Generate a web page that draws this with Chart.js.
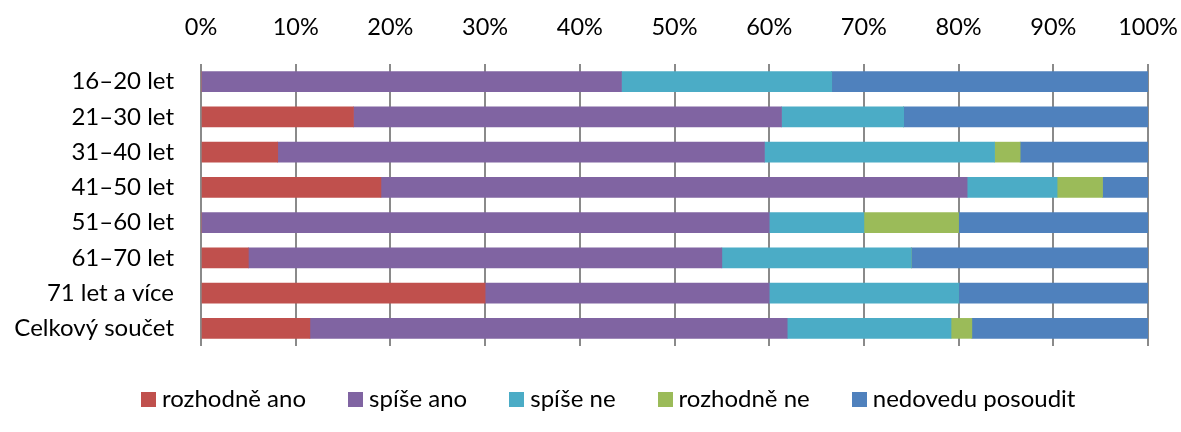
<!DOCTYPE html>
<html>
<head>
<meta charset="utf-8">
<script src="https://cdn.jsdelivr.net/npm/chart.js@4/dist/chart.umd.min.js"></script>
<style>
  html, body { margin: 0; padding: 0; background: #fff; }
  #wrap { position: relative; width: 1181px; height: 432px; }
  #legend {
    position: absolute; left: 141px; top: 384px; white-space: nowrap;
    font-family: Lato, sans-serif; font-size: 24px; color: #000; line-height: 28px;
  }
  #legend span.item { display: inline-block; margin-right: 42px; }
  #legend span.box { display: inline-block; width: 15px; height: 15px; margin-right: 6px; }
</style>
</head>
<body>
<div id="wrap">
  <canvas id="myChart" width="1181" height="432"></canvas>
  <div id="legend"></div>
</div>
<script>
const categories = ['16–20 let', '21–30 let', '31–40 let', '41–50 let', '51–60 let', '61–70 let', '71 let a více', 'Celkový součet'];
const rozhodneAno = [0, 16.1, 8.1, 19.0, 0, 5, 30, 11.5];
const spiseAno = [44.4, 45.2, 51.4, 61.9, 60, 50, 30, 50.4];
const spiseNe = [22.2, 12.9, 24.3, 9.5, 10, 20, 20, 17.3];
const rozhodneNe = [0, 0, 2.7, 4.8, 10, 0, 0, 2.2];
const nedovedu = [33.4, 25.8, 13.5, 4.8, 20, 25, 20, 18.6];
const seriesNames = ['rozhodně ano', 'spíše ano', 'spíše ne', 'rozhodně ne', 'nedovedu posoudit'];
const xTicks = [0, 10, 20, 30, 40, 50, 60, 70, 80, 90, 100];

const colors = ['#C0504D', '#8064A2', '#4BACC6', '#9BBB59', '#4F81BD'];

const chart = new Chart(document.getElementById('myChart'), {
  type: 'bar',
  data: {
    labels: categories,
    datasets: [rozhodneAno, spiseAno, spiseNe, rozhodneNe, nedovedu].map((d, i) => ({
      label: seriesNames[i],
      data: d,
      backgroundColor: colors[i],
      borderWidth: 0,
      barThickness: 20,
    })),
  },
  options: {
    indexAxis: 'y',
    responsive: false,
    animation: false,
    layout: { padding: { top: 0, right: 33, bottom: 86, left: 0 } },
    plugins: { legend: { display: false }, tooltip: { enabled: false } },
    scales: {
      x: {
        position: 'top',
        stacked: true,
        min: 0,
        max: 100,
        afterBuildTicks: (s) => { s.ticks = xTicks.map((v) => ({ value: v })); },
        afterFit: (s) => { s.height = 64; s.paddingLeft = 0; s.paddingRight = 0; },
        ticks: { callback: (v) => v + '%', font: { family: 'Lato, sans-serif', size: 23.5 }, color: '#000', padding: 22, maxRotation: 0 },
        grid: { color: '#8a8a8a', lineWidth: 2, drawTicks: false },
        border: { display: false },
      },
      y: {
        stacked: true,
        afterFit: (s) => { s.width = 201; },
        ticks: { font: { family: 'Lato, sans-serif', size: 24 }, color: '#000', padding: 27 },
        grid: { display: false, drawTicks: false },
        border: { display: false },
      },
    },
  },
});

// legend built from the chart's datasets
const legend = document.getElementById('legend');
chart.data.datasets.forEach((ds) => {
  const item = document.createElement('span');
  item.className = 'item';
  const box = document.createElement('span');
  box.className = 'box';
  box.style.background = ds.backgroundColor;
  item.appendChild(box);
  item.appendChild(document.createTextNode(ds.label));
  legend.appendChild(item);
});
</script>
</body>
</html>
